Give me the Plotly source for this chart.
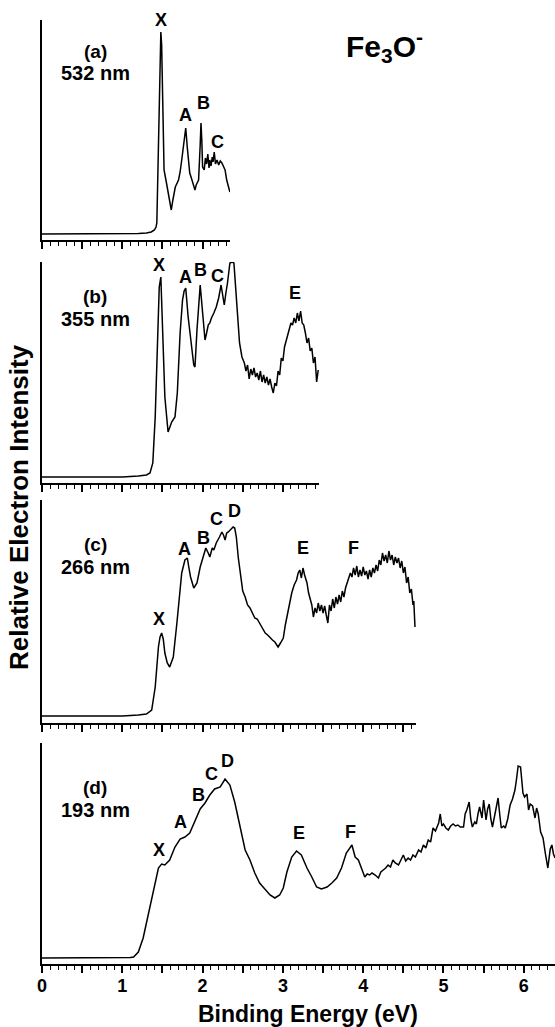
import plotly.graph_objects as go

# ---------------- data (binding energy in eV, intensity in arbitrary units) ----------------
a_x = [0, 1.0, 1.2, 1.30, 1.36, 1.40, 1.42, 1.43, 1.45, 1.47,
       1.48, 1.49, 1.50, 1.52, 1.55, 1.58, 1.61, 1.63, 1.66, 1.70,
       1.72, 1.74, 1.76, 1.78, 1.79, 1.81, 1.84, 1.86, 1.88, 1.905,
       1.92, 1.95, 1.97, 1.98, 1.99, 2.00, 2.02, 2.035, 2.05, 2.065,
       2.08, 2.09, 2.105, 2.12, 2.13, 2.145, 2.16, 2.18, 2.20, 2.22,
       2.24, 2.26, 2.28, 2.30, 2.32, 2.34]
a_y = [6, 6, 6.5, 7, 8, 10, 13, 17, 97, 180,
       208, 195, 163, 70, 57, 45, 30, 40, 53, 60,
       68, 80, 95, 110, 112, 92, 67, 62, 57, 50,
       55, 60, 95, 117, 100, 73, 70, 82, 76, 86,
       72, 80, 74, 83, 78, 88, 76, 80, 75, 79,
       77, 73, 70, 60, 55, 48]

b_x = [0, 1.0, 1.2, 1.30, 1.345, 1.38, 1.41, 1.44, 1.46, 1.48,
       1.50, 1.53, 1.57, 1.59, 1.615, 1.656, 1.685, 1.72, 1.75, 1.77,
       1.79, 1.82, 1.86, 1.89, 1.905, 1.93, 1.97, 2.00, 2.03, 2.05,
       2.07, 2.09, 2.11, 2.14, 2.17, 2.20, 2.23, 2.25, 2.27, 2.29,
       2.31, 2.34, 2.37, 2.39, 2.42, 2.46, 2.49,
       2.52, 2.54, 2.56, 2.58, 2.60, 2.62, 2.64, 2.66, 2.68, 2.70,
       2.72, 2.74, 2.76, 2.78, 2.80, 2.82, 2.84, 2.86, 2.88, 2.90,
       2.92, 2.94, 2.96, 2.98, 3.00, 3.02, 3.04, 3.06, 3.08, 3.10,
       3.12, 3.14, 3.16, 3.18, 3.20, 3.22, 3.24, 3.26, 3.28, 3.30,
       3.32, 3.34, 3.36, 3.38, 3.40, 3.42, 3.44]
b_y = [6, 6, 7, 8, 10, 20, 66, 150, 196, 206,
       150, 86, 51, 55, 61, 66, 90, 150, 183, 192,
       195, 166, 136, 118, 116, 153, 198, 166, 143, 150,
       158, 160, 165, 170, 176, 185, 198, 188, 178, 190,
       200, 220, 221, 220, 183, 140, 126,
       120, 112, 118, 104, 114, 108, 115, 106, 110, 103,
       112, 101, 108, 100, 106, 98, 104, 96, 90, 100,
       97, 112, 108, 125, 122, 136, 142, 150, 156, 160,
       158, 165, 160, 170, 162, 172, 160, 158, 150, 140,
       145, 132, 135, 120, 126, 101, 113]

c_x = [0, 1.0, 1.2, 1.30, 1.366, 1.41, 1.45, 1.47, 1.49, 1.51,
       1.53, 1.56, 1.59, 1.635, 1.68, 1.71, 1.74, 1.78, 1.81, 1.83,
       1.85, 1.89, 1.93, 1.97, 2.00, 2.02, 2.04, 2.07, 2.09, 2.12,
       2.14, 2.17, 2.19, 2.21, 2.24, 2.26, 2.28, 2.30, 2.32, 2.35,
       2.38, 2.40, 2.42, 2.445, 2.47, 2.50, 2.53, 2.56, 2.59, 2.62,
       2.65, 2.68, 2.71, 2.74, 2.78, 2.81, 2.84, 2.87, 2.90, 2.92,
       2.94, 2.97, 3.005, 3.03, 3.05, 3.08, 3.11, 3.14, 3.17, 3.19,
       3.21, 3.23, 3.25, 3.27, 3.30, 3.32, 3.34,
       3.36, 3.38, 3.40, 3.42, 3.44, 3.46, 3.48, 3.50, 3.52, 3.54,
       3.56, 3.58, 3.60, 3.62, 3.64, 3.66, 3.68, 3.70, 3.72, 3.74,
       3.76, 3.78, 3.80, 3.82, 3.84, 3.86, 3.88, 3.90, 3.92, 3.94,
       3.96, 3.98, 4.00, 4.02, 4.04, 4.06, 4.08, 4.10, 4.12, 4.14,
       4.16, 4.18, 4.20, 4.22, 4.24, 4.26, 4.28, 4.30, 4.32, 4.34,
       4.36, 4.38, 4.40, 4.42, 4.44, 4.46, 4.48, 4.50, 4.52, 4.54,
       4.56, 4.58, 4.60, 4.62, 4.63, 4.645]
c_y = [7, 7, 8, 9, 13, 36, 76, 86, 90, 84,
       70, 60, 56, 66, 100, 125, 150, 163, 165, 155,
       146, 135, 140, 156, 165, 171, 175, 170, 166, 175,
       173, 180, 184, 186, 191, 188, 183, 190, 191, 194,
       196, 195, 186, 165, 150, 132, 126, 118, 115, 110,
       105, 104, 100, 96, 90, 88, 85, 83, 81, 78,
       76, 80, 85, 98, 106, 118, 130, 138, 143, 150,
       153, 145, 155, 148, 140, 130, 123,
       118, 106, 115, 110, 120, 112, 118, 110, 117, 108,
       100, 118, 112, 124, 115, 126, 119, 128, 121, 132,
       126, 135, 140, 145, 150, 146, 155, 148, 157, 146,
       153, 147, 156, 148, 152, 144, 153, 146, 155, 150,
       158, 152, 163, 158, 170, 162, 168, 160, 172, 163,
       168, 158, 166, 160, 165, 155, 162, 150, 156, 140,
       146, 130, 134, 118, 122, 96]

d_x = [0, 0.5, 1.0, 1.10, 1.14, 1.20, 1.26, 1.32, 1.39, 1.45,
       1.49, 1.53, 1.59, 1.656, 1.72, 1.78, 1.84, 1.905, 1.97, 2.03,
       2.09, 2.15, 2.22, 2.28, 2.34, 2.40, 2.466, 2.53, 2.59, 2.65,
       2.71, 2.78, 2.84, 2.90, 2.96, 3.005, 3.05, 3.11, 3.17, 3.23,
       3.30, 3.36, 3.42, 3.48, 3.55, 3.61, 3.67, 3.73, 3.79, 3.86,
       3.90, 3.94, 3.98, 4.02, 4.05, 4.08, 4.11, 4.15, 4.19, 4.22,
       4.25, 4.28, 4.31, 4.34, 4.37, 4.40, 4.44, 4.47, 4.50, 4.53,
       4.56, 4.59, 4.62, 4.65, 4.69, 4.72, 4.75, 4.78, 4.81, 4.84,
       4.87, 4.90, 4.94, 4.96, 4.98, 5.00, 5.03, 5.06, 5.09, 5.12,
       5.15, 5.18, 5.21, 5.25, 5.27, 5.29, 5.32, 5.34, 5.36, 5.39,
       5.41, 5.43, 5.45, 5.48, 5.50, 5.53, 5.55, 5.57, 5.59, 5.61,
       5.64, 5.66, 5.68, 5.70, 5.72, 5.75, 5.77, 5.80, 5.83, 5.86,
       5.89, 5.91, 5.93, 5.96, 5.99, 6.01, 6.04, 6.06, 6.08, 6.11,
       6.14, 6.16, 6.18, 6.21, 6.24, 6.27, 6.30, 6.33, 6.35, 6.37,
       6.39]
d_y = [6, 6, 6, 6.5, 7, 12, 26, 49, 76, 96,
       100, 99, 104, 117, 125, 127, 131, 144, 155, 161,
       169, 175, 177, 185, 179, 162, 139, 114, 104, 91,
       81, 74, 69, 66, 69, 76, 92, 107, 113, 109,
       96, 87, 77, 75, 77, 81, 86, 96, 111, 119,
       107, 104, 96, 87, 90, 89, 91, 89, 86, 92,
       94, 96, 99, 97, 104, 101, 99, 105, 109, 103,
       106, 104, 109, 107, 114, 112, 119, 116, 124, 122,
       136, 133, 141, 150, 138, 140, 136, 134, 138, 140,
       138, 139, 137, 137, 150, 154, 162, 145, 137, 142,
       140, 150, 157, 146, 164, 144, 155, 160, 145, 137,
       150, 160, 166, 150, 136, 138, 136, 145, 159, 165,
       174, 185, 198, 197, 171, 167, 170, 154, 160, 158,
       146, 156, 150, 132, 126, 110, 96, 115, 119, 110,
       106]

panel_tags = ["(a)", "(b)", "(c)", "(d)"]
wavelengths = ["532 nm", "355 nm", "266 nm", "193 nm"]
x_ends = [2.34, 3.45, 4.66, 6.389]

peak_labels = [
    [("X", 1.478, 220), ("A", 1.781, 125), ("B", 2.009, 137), ("C", 2.183, 98)],
    [("X", 1.461, 218), ("A", 1.790, 206), ("B", 1.976, 213), ("C", 2.188, 207),
     ("D", 2.516, 226), ("E", 3.154, 190)],
    [("X", 1.461, 104), ("A", 1.772, 174), ("B", 2.009, 185), ("C", 2.175, 204),
     ("D", 2.395, 212), ("E", 3.246, 175), ("F", 3.877, 175)],
    [("X", 1.461, 114), ("A", 1.727, 142), ("B", 1.946, 169), ("C", 2.105, 190),
     ("D", 2.307, 203), ("E", 3.200, 131), ("F", 3.848, 132)],
]

# ---------------- layout geometry (pixels) ----------------
W, H = 555, 1027
X0 = 42.0          # pixel of 0 eV
PX_PER_EV = 80.3
tops = [20, 262, 500, 743]
bottoms = [240, 483, 723, 964]
tag_pos = [(52, 73), (296, 319), (544, 567), (787, 810)]   # pixel centres of "(x)" / "nnn nm"

FONT = "Liberation Sans, Arial, Helvetica, sans-serif"
series = [(a_x, a_y), (b_x, b_y), (c_x, c_y), (d_x, d_y)]

fig = go.Figure()
annotations = []
layout = dict(
    width=W, height=H,
    margin=dict(l=0, r=0, t=0, b=0),
    paper_bgcolor="white", plot_bgcolor="white",
    showlegend=False,
    font=dict(family=FONT, color="black"),
)

for i, (xs, ys) in enumerate(series):
    sfx = "" if i == 0 else str(i + 1)
    xa, ya = "x" + sfx, "y" + sfx
    fig.add_trace(go.Scatter(x=xs, y=ys, mode="lines",
                             line=dict(color="black", width=1.5),
                             xaxis=xa, yaxis=ya, hoverinfo="skip",
                             cliponaxis=False))
    xmax = x_ends[i]
    last = (i == len(series) - 1)
    layout["xaxis" + sfx] = dict(
        domain=[X0 / W, min(1.0, (X0 + PX_PER_EV * xmax) / W)],
        range=[0, xmax], anchor=ya,
        showline=True, linecolor="black", linewidth=2,
        ticks="outside", ticklen=7, tickwidth=1.5, tickcolor="black",
        tickmode="linear", tick0=0, dtick=0.5, ticklabelstep=2,
        showticklabels=last, ticklabelstandoff=-3,
        tickfont=dict(family=FONT, size=18, color="black", weight="bold"),
        minor=dict(dtick=0.1, tick0=0, ticks="outside", ticklen=4,
                   tickwidth=1.2, tickcolor="black", showgrid=False),
        showgrid=False, zeroline=False, automargin=False,
    )
    layout["yaxis" + sfx] = dict(
        domain=[1 - bottoms[i] / H, 1 - tops[i] / H],
        range=[0, bottoms[i] - tops[i]], anchor=xa,
        showline=True, linecolor="black", linewidth=1.5,
        ticks="", showticklabels=False, showgrid=False, zeroline=False,
        automargin=False,
    )
    py1, py2 = tag_pos[i]
    annotations.append(dict(text="<b>%s</b>" % panel_tags[i], x=(95 - X0) / PX_PER_EV,
                            y=bottoms[i] - py1, xref=xa, yref=ya, showarrow=False,
                            xanchor="center", yanchor="middle",
                            font=dict(size=19, family=FONT)))
    annotations.append(dict(text="<b>%s</b>" % wavelengths[i], x=(95 - X0) / PX_PER_EV,
                            y=bottoms[i] - py2, xref=xa, yref=ya, showarrow=False,
                            xanchor="center", yanchor="middle",
                            font=dict(size=20, family=FONT)))
    for (lab, lx, ly) in peak_labels[i]:
        annotations.append(dict(text="<b>%s</b>" % lab, x=lx, y=ly,
                                xref=xa, yref=ya, showarrow=False,
                                xanchor="center", yanchor="middle",
                                font=dict(size=18, family=FONT)))

annotations.append(dict(text="<b>Fe<sub>3</sub>O<sup>-</sup></b>",
                        x=384 / W, y=1 - 46 / H, xref="paper", yref="paper",
                        xanchor="center", yanchor="middle",
                        showarrow=False, font=dict(size=30, family=FONT)))
annotations.append(dict(text="<b>Binding Energy (eV)</b>",
                        x=308 / W, y=1 - 1014 / H, xref="paper", yref="paper",
                        xanchor="center", yanchor="middle",
                        showarrow=False, font=dict(size=23, family=FONT)))
annotations.append(dict(text="<b>Relative Electron Intensity</b>", textangle=-90,
                        x=19 / W, y=1 - 507 / H, xref="paper", yref="paper",
                        xanchor="center", yanchor="middle",
                        showarrow=False, font=dict(size=26, family=FONT)))
layout["annotations"] = annotations

fig.update_layout(**layout)
fig.write_html("out.html", config={"displayModeBar": False},
               post_script="document.body.style.margin='0';document.body.style.padding='0';")
